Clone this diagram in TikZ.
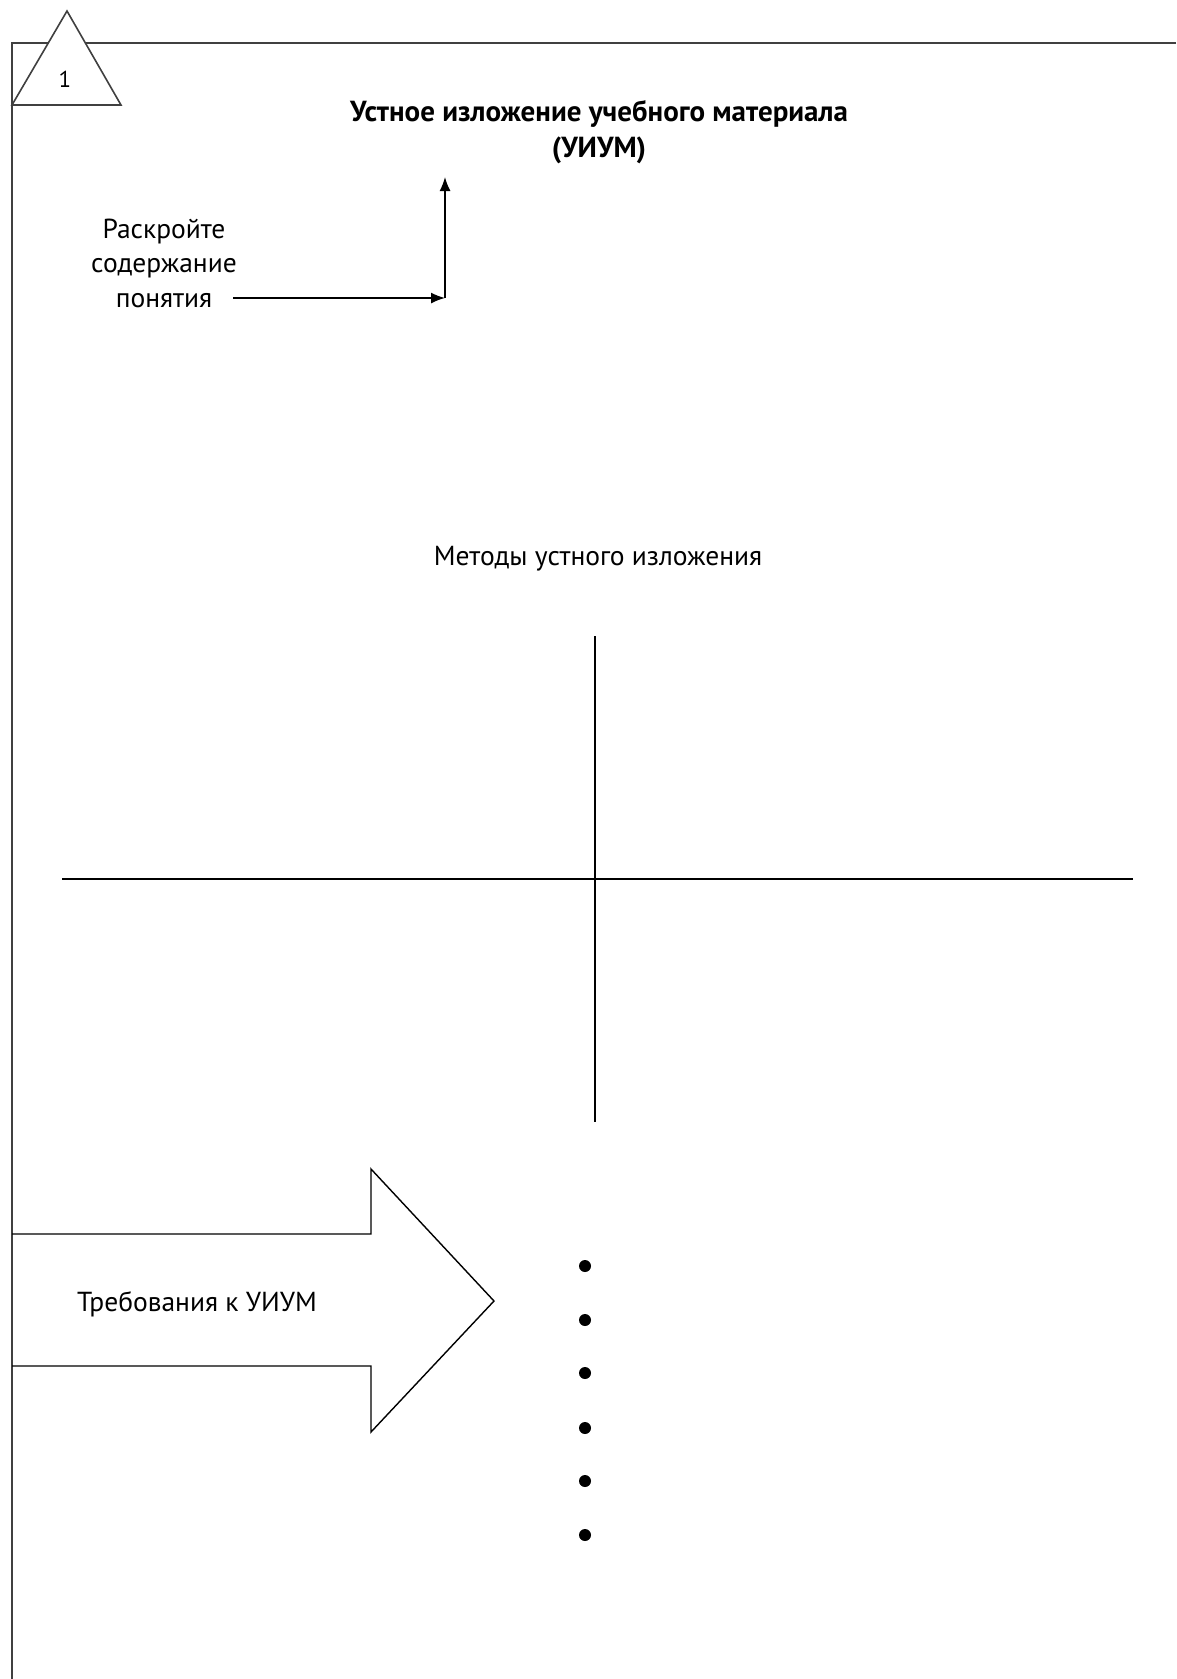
\documentclass[tikz,border=0pt]{standalone}
\usepackage{fontspec}
\setmainfont{PT Sans}
\usetikzlibrary{arrows.meta}
\tikzset{
  rahmen/.style={line width=1.6pt, draw=black!75},
  linie/.style={line width=1.4pt},
  pfeil/.style={line width=1.5pt, -{Latex[length=14pt,width=11pt]}},
  text28/.style={font=\fontsize{27.5}{34.5}\selectfont, align=center, inner sep=0pt},
}
\begin{document}
\begin{tikzpicture}[x=1pt,y=-1pt]
            \useasboundingbox (0,0) rectangle (1176,1679);
            \draw[rahmen] (1176,43) -- (12,43) -- (12,1679); % Rahmen
            \filldraw[rahmen, fill=white] (67,11) -- (121,105) -- (12,105) -- cycle; % Dreieck
            \node[text28, font=\fontsize{23}{30}\selectfont] (nr) at (65,79) {1};

            % Titel
            \node[text28, font=\fontsize{29}{36.5}\selectfont\bfseries] (titel) at (599,132)
                {Устное изложение учебного материала\\(УИУМ)};

            % Frage mit Pfeil
            \node[text28] (frage) at (164,263) {Раскройте\\содержание\\понятия};
            \coordinate (start) at (233,298);
            \coordinate (ecke) at (445,298);
            \coordinate (oben) at (445,177);
            \draw[pfeil] (start) -- (ecke);
            \draw[pfeil] (ecke) -- (oben);

            % Methoden
            \node[text28] (methoden) at (598,559) {Методы устного изложения};
            \draw[linie] (595,636) -- (595,1122);
            \draw[linie] (62,879) -- (1133,879);

            % Anforderungen
            \draw[linie] (12,1234) -- (371,1234) -- (371,1169) -- (494,1301)
                -- (371,1432) -- (371,1366) -- (12,1366);
            \node[text28] (anf) at (197,1304) {Требования к УИУМ};
            \foreach \y in {1266,1320,1373,1428,1481,1535}
                \fill (585,\y) circle (6);
\end{tikzpicture}
\end{document}
